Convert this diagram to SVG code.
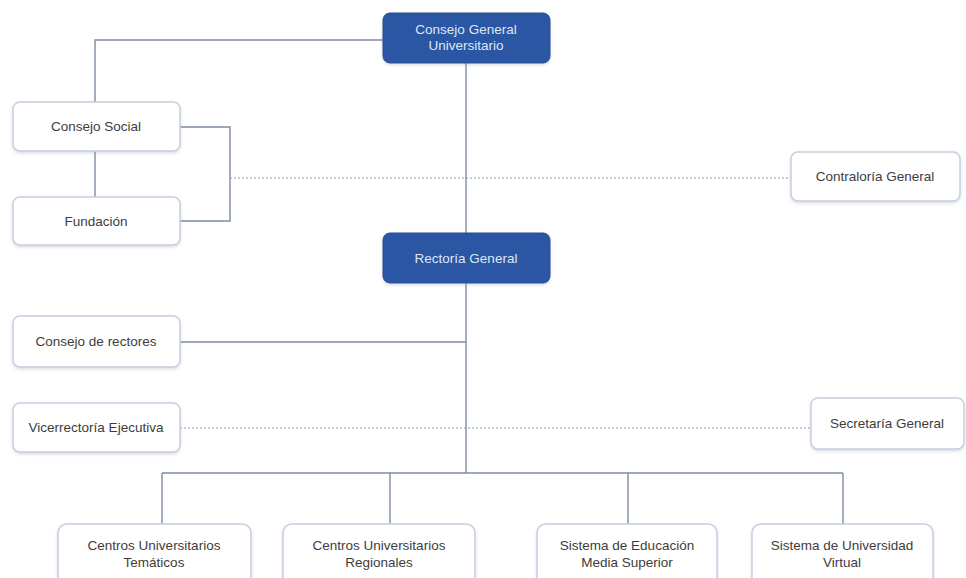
<svg xmlns="http://www.w3.org/2000/svg" width="966" height="578" viewBox="0 0 966 578">
  <defs>
    <filter id="shadow" x="-10%" y="-10%" width="120%" height="130%">
      <feDropShadow dx="0" dy="1.5" stdDeviation="1.5" flood-color="#8a9ab5" flood-opacity="0.35"/>
    </filter>
  </defs>
  <style>
    .box { fill: #ffffff; stroke: #c6d0e0; stroke-width: 1.5; filter: url(#shadow); }
    .head { fill: #2c57a3; stroke: #244c92; stroke-width: 1; filter: url(#shadow); }
    .lbl { font-family: "Liberation Sans", Arial, sans-serif; font-size: 13.5px; fill: #3d3d3d; text-anchor: middle; }
    .lblw { font-family: "Liberation Sans", Arial, sans-serif; font-size: 13.5px; fill: #dfe7f7; text-anchor: middle; }
    .ln { fill: none; stroke: #7d8ba4; stroke-width: 1.4; }
    .dot { fill: none; stroke: #8d99ad; stroke-width: 1.2; stroke-dasharray: 2 2; }
  </style>
  <rect width="966" height="578" fill="#ffffff"/>

  <g id="connectors">
    <!-- main spine -->
    <path class="ln" d="M466 63 V233"/>
    <path class="ln" d="M466 283 V473"/>
    <!-- Consejo General to Consejo Social -->
    <path class="ln" d="M383 40 H95 V102"/>
    <path class="ln" d="M95 151 V197"/>
    <!-- bracket joining Consejo Social and Fundación -->
    <path class="ln" d="M180 127 H230 V221 H180"/>
    <!-- Consejo de rectores -->
    <path class="ln" d="M180 342 H466"/>
    <!-- bottom bus -->
    <path class="ln" d="M162 473 H843"/>
    <path class="ln" d="M162 473 V524"/>
    <path class="ln" d="M390 473 V524"/>
    <path class="ln" d="M628 473 V524"/>
    <path class="ln" d="M843 473 V524"/>
    <!-- dotted staff links -->
    <path class="dot" d="M230 178 H791"/>
    <path class="dot" d="M180 428 H811"/>
  </g>

  <g id="consejo-general">
    <rect class="head" x="383" y="13" width="167" height="50" rx="7"/>
    <text class="lblw" x="466" y="34">Consejo General</text>
    <text class="lblw" x="466" y="50">Universitario</text>
  </g>

  <g id="consejo-social">
    <rect class="box" x="13" y="102" width="167" height="49" rx="7"/>
    <text class="lbl" x="96" y="131">Consejo Social</text>
  </g>

  <g id="fundacion">
    <rect class="box" x="13" y="197" width="167" height="48" rx="7"/>
    <text class="lbl" x="96" y="226">Fundación</text>
  </g>

  <g id="contraloria">
    <rect class="box" x="791" y="152" width="169" height="49" rx="7"/>
    <text class="lbl" x="875" y="181">Contraloría  General</text>
  </g>

  <g id="rectoria">
    <rect class="head" x="383" y="233" width="167" height="50" rx="7"/>
    <text class="lblw" x="466" y="263">Rectoría  General</text>
  </g>

  <g id="consejo-rectores">
    <rect class="box" x="13" y="316" width="167" height="51" rx="7"/>
    <text class="lbl" x="96" y="346">Consejo de rectores</text>
  </g>

  <g id="vicerrectoria">
    <rect class="box" x="13" y="403" width="167" height="49" rx="7"/>
    <text class="lbl" x="96" y="432">Vicerrectoría  Ejecutiva</text>
  </g>

  <g id="secretaria">
    <rect class="box" x="811" y="398" width="153" height="51" rx="7"/>
    <text class="lbl" x="887" y="428">Secretaría General</text>
  </g>

  <g id="centros-tematicos">
    <rect class="box" x="58" y="524" width="193" height="66" rx="9"/>
    <text class="lbl" x="154" y="550">Centros Universitarios</text>
    <text class="lbl" x="154" y="567">Temáticos</text>
  </g>

  <g id="centros-regionales">
    <rect class="box" x="283" y="524" width="192" height="66" rx="9"/>
    <text class="lbl" x="379" y="550">Centros Universitarios</text>
    <text class="lbl" x="379" y="567">Regionales</text>
  </g>

  <g id="sems">
    <rect class="box" x="537" y="524" width="180" height="66" rx="9"/>
    <text class="lbl" x="627" y="550">Sistema de Educación</text>
    <text class="lbl" x="627" y="567">Media Superior</text>
  </g>

  <g id="suv">
    <rect class="box" x="752" y="524" width="181" height="66" rx="9"/>
    <text class="lbl" x="842" y="550">Sistema de Universidad</text>
    <text class="lbl" x="842" y="567">Virtual</text>
  </g>
</svg>
